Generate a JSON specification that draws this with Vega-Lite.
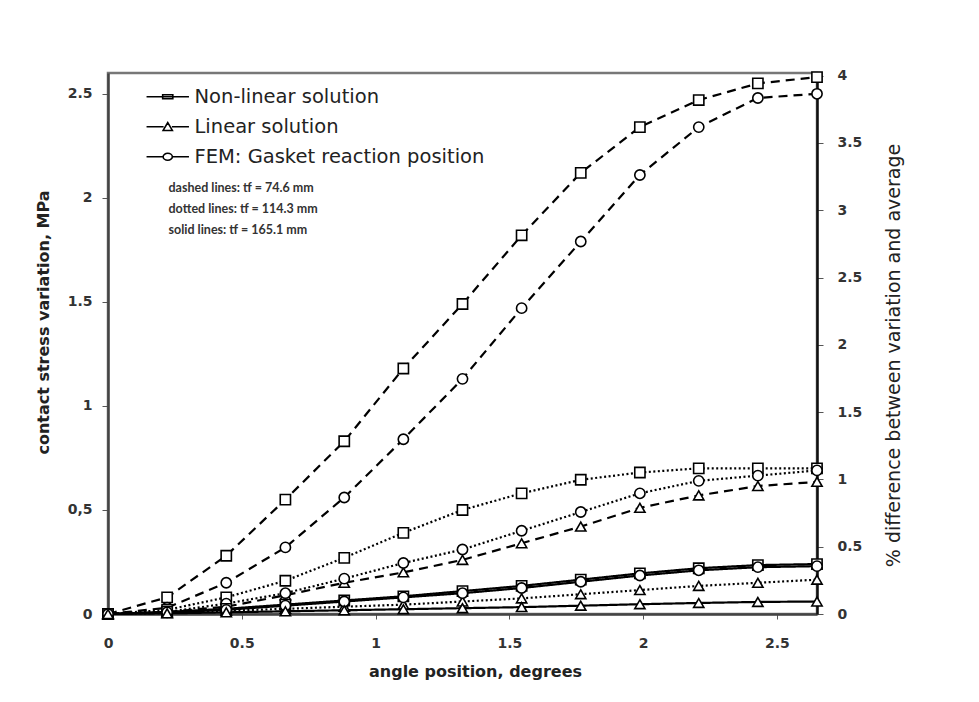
{
  "$schema": "https://vega.github.io/schema/vega-lite/v6.json",
  "width": 709,
  "height": 541,
  "autosize": {"type": "none"},
  "padding": {"left": 108, "top": 73, "right": 162, "bottom": 88},
  "background": "white",
  "config": {
    "font": "DejaVu Sans",
    "view": {"stroke": "#777", "strokeWidth": 2.5},
    "axis": {"grid": false, "labelColor": "#333", "titleColor": "#222", "tickColor": "#555", "domainColor": "#444", "domainWidth": 2.5, "labelFont": "DejaVu Sans", "titleFont": "DejaVu Sans"},
    "legend": {"labelFont": "DejaVu Sans"}
  },
  "datasets": {
    "curves": [
      {"a": 0, "v": 0, "m": "NL", "t": "d"}, {"a": 0.221, "v": 0.08, "m": "NL", "t": "d"}, {"a": 0.442, "v": 0.28, "m": "NL", "t": "d"}, {"a": 0.663, "v": 0.55, "m": "NL", "t": "d"}, {"a": 0.883, "v": 0.83, "m": "NL", "t": "d"}, {"a": 1.104, "v": 1.18, "m": "NL", "t": "d"}, {"a": 1.325, "v": 1.49, "m": "NL", "t": "d"}, {"a": 1.546, "v": 1.82, "m": "NL", "t": "d"}, {"a": 1.767, "v": 2.12, "m": "NL", "t": "d"}, {"a": 1.988, "v": 2.34, "m": "NL", "t": "d"}, {"a": 2.208, "v": 2.47, "m": "NL", "t": "d"}, {"a": 2.429, "v": 2.55, "m": "NL", "t": "d"}, {"a": 2.65, "v": 2.58, "m": "NL", "t": "d"},
      {"a": 0, "v": 0, "m": "FEM", "t": "d"}, {"a": 0.221, "v": 0.03, "m": "FEM", "t": "d"}, {"a": 0.442, "v": 0.15, "m": "FEM", "t": "d"}, {"a": 0.663, "v": 0.32, "m": "FEM", "t": "d"}, {"a": 0.883, "v": 0.56, "m": "FEM", "t": "d"}, {"a": 1.104, "v": 0.84, "m": "FEM", "t": "d"}, {"a": 1.325, "v": 1.13, "m": "FEM", "t": "d"}, {"a": 1.546, "v": 1.47, "m": "FEM", "t": "d"}, {"a": 1.767, "v": 1.79, "m": "FEM", "t": "d"}, {"a": 1.988, "v": 2.11, "m": "FEM", "t": "d"}, {"a": 2.208, "v": 2.34, "m": "FEM", "t": "d"}, {"a": 2.429, "v": 2.48, "m": "FEM", "t": "d"}, {"a": 2.65, "v": 2.5, "m": "FEM", "t": "d"},
      {"a": 0, "v": 0, "m": "L", "t": "d"}, {"a": 0.221, "v": 0.01, "m": "L", "t": "d"}, {"a": 0.442, "v": 0.035, "m": "L", "t": "d"}, {"a": 0.663, "v": 0.09, "m": "L", "t": "d"}, {"a": 0.883, "v": 0.15, "m": "L", "t": "d"}, {"a": 1.104, "v": 0.2, "m": "L", "t": "d"}, {"a": 1.325, "v": 0.26, "m": "L", "t": "d"}, {"a": 1.546, "v": 0.34, "m": "L", "t": "d"}, {"a": 1.767, "v": 0.42, "m": "L", "t": "d"}, {"a": 1.988, "v": 0.51, "m": "L", "t": "d"}, {"a": 2.208, "v": 0.57, "m": "L", "t": "d"}, {"a": 2.429, "v": 0.615, "m": "L", "t": "d"}, {"a": 2.65, "v": 0.635, "m": "L", "t": "d"},
      {"a": 0, "v": 0, "m": "NL", "t": "o"}, {"a": 0.221, "v": 0.02, "m": "NL", "t": "o"}, {"a": 0.442, "v": 0.08, "m": "NL", "t": "o"}, {"a": 0.663, "v": 0.16, "m": "NL", "t": "o"}, {"a": 0.883, "v": 0.27, "m": "NL", "t": "o"}, {"a": 1.104, "v": 0.39, "m": "NL", "t": "o"}, {"a": 1.325, "v": 0.5, "m": "NL", "t": "o"}, {"a": 1.546, "v": 0.58, "m": "NL", "t": "o"}, {"a": 1.767, "v": 0.645, "m": "NL", "t": "o"}, {"a": 1.988, "v": 0.68, "m": "NL", "t": "o"}, {"a": 2.208, "v": 0.7, "m": "NL", "t": "o"}, {"a": 2.429, "v": 0.7, "m": "NL", "t": "o"}, {"a": 2.65, "v": 0.7, "m": "NL", "t": "o"},
      {"a": 0, "v": 0, "m": "FEM", "t": "o"}, {"a": 0.221, "v": 0.01, "m": "FEM", "t": "o"}, {"a": 0.442, "v": 0.05, "m": "FEM", "t": "o"}, {"a": 0.663, "v": 0.1, "m": "FEM", "t": "o"}, {"a": 0.883, "v": 0.17, "m": "FEM", "t": "o"}, {"a": 1.104, "v": 0.245, "m": "FEM", "t": "o"}, {"a": 1.325, "v": 0.31, "m": "FEM", "t": "o"}, {"a": 1.546, "v": 0.4, "m": "FEM", "t": "o"}, {"a": 1.767, "v": 0.49, "m": "FEM", "t": "o"}, {"a": 1.988, "v": 0.58, "m": "FEM", "t": "o"}, {"a": 2.208, "v": 0.64, "m": "FEM", "t": "o"}, {"a": 2.429, "v": 0.665, "m": "FEM", "t": "o"}, {"a": 2.65, "v": 0.69, "m": "FEM", "t": "o"},
      {"a": 0, "v": 0, "m": "L", "t": "o"}, {"a": 0.221, "v": 0.005, "m": "L", "t": "o"}, {"a": 0.442, "v": 0.015, "m": "L", "t": "o"}, {"a": 0.663, "v": 0.025, "m": "L", "t": "o"}, {"a": 0.883, "v": 0.035, "m": "L", "t": "o"}, {"a": 1.104, "v": 0.045, "m": "L", "t": "o"}, {"a": 1.325, "v": 0.06, "m": "L", "t": "o"}, {"a": 1.546, "v": 0.075, "m": "L", "t": "o"}, {"a": 1.767, "v": 0.095, "m": "L", "t": "o"}, {"a": 1.988, "v": 0.115, "m": "L", "t": "o"}, {"a": 2.208, "v": 0.135, "m": "L", "t": "o"}, {"a": 2.429, "v": 0.15, "m": "L", "t": "o"}, {"a": 2.65, "v": 0.165, "m": "L", "t": "o"},
      {"a": 0, "v": 0, "m": "NL", "t": "s"}, {"a": 0.221, "v": 0.01, "m": "NL", "t": "s"}, {"a": 0.442, "v": 0.025, "m": "NL", "t": "s"}, {"a": 0.663, "v": 0.045, "m": "NL", "t": "s"}, {"a": 0.883, "v": 0.065, "m": "NL", "t": "s"}, {"a": 1.104, "v": 0.085, "m": "NL", "t": "s"}, {"a": 1.325, "v": 0.11, "m": "NL", "t": "s"}, {"a": 1.546, "v": 0.135, "m": "NL", "t": "s"}, {"a": 1.767, "v": 0.165, "m": "NL", "t": "s"}, {"a": 1.988, "v": 0.195, "m": "NL", "t": "s"}, {"a": 2.208, "v": 0.22, "m": "NL", "t": "s"}, {"a": 2.429, "v": 0.235, "m": "NL", "t": "s"}, {"a": 2.65, "v": 0.24, "m": "NL", "t": "s"},
      {"a": 0, "v": 0, "m": "FEM", "t": "s"}, {"a": 0.221, "v": 0.008, "m": "FEM", "t": "s"}, {"a": 0.442, "v": 0.02, "m": "FEM", "t": "s"}, {"a": 0.663, "v": 0.04, "m": "FEM", "t": "s"}, {"a": 0.883, "v": 0.06, "m": "FEM", "t": "s"}, {"a": 1.104, "v": 0.08, "m": "FEM", "t": "s"}, {"a": 1.325, "v": 0.1, "m": "FEM", "t": "s"}, {"a": 1.546, "v": 0.125, "m": "FEM", "t": "s"}, {"a": 1.767, "v": 0.155, "m": "FEM", "t": "s"}, {"a": 1.988, "v": 0.185, "m": "FEM", "t": "s"}, {"a": 2.208, "v": 0.21, "m": "FEM", "t": "s"}, {"a": 2.429, "v": 0.225, "m": "FEM", "t": "s"}, {"a": 2.65, "v": 0.23, "m": "FEM", "t": "s"},
      {"a": 0, "v": 0, "m": "L", "t": "s"}, {"a": 0.221, "v": 0.003, "m": "L", "t": "s"}, {"a": 0.442, "v": 0.008, "m": "L", "t": "s"}, {"a": 0.663, "v": 0.013, "m": "L", "t": "s"}, {"a": 0.883, "v": 0.018, "m": "L", "t": "s"}, {"a": 1.104, "v": 0.023, "m": "L", "t": "s"}, {"a": 1.325, "v": 0.028, "m": "L", "t": "s"}, {"a": 1.546, "v": 0.033, "m": "L", "t": "s"}, {"a": 1.767, "v": 0.04, "m": "L", "t": "s"}, {"a": 1.988, "v": 0.047, "m": "L", "t": "s"}, {"a": 2.208, "v": 0.053, "m": "L", "t": "s"}, {"a": 2.429, "v": 0.058, "m": "L", "t": "s"}, {"a": 2.65, "v": 0.06, "m": "L", "t": "s"}
    ],
    "pct": [{"pct": 0}, {"pct": 4}]
  },
  "layer": [
    {
      "data": {"name": "curves"},
      "encoding": {
        "x": {
          "field": "a", "type": "quantitative",
          "scale": {"domain": [0, 2.65], "nice": false, "zero": false},
          "axis": {"values": [0, 0.5, 1, 1.5, 2, 2.5], "format": "~g", "labelFontSize": 14, "labelFontWeight": "bold", "labelPadding": 17, "labelFlush": false, "tickSize": 5, "title": "angle  position,  degrees", "titleFontSize": 16, "titleFontWeight": "bold", "titlePadding": 13, "titleX": 367}
        },
        "y": {
          "field": "v", "type": "quantitative",
          "scale": {"domain": [0, 2.6], "nice": false},
          "axis": {"values": [0, 0.5, 1, 1.5, 2, 2.5], "format": "~g", "labelExpr": "datum.value == 0.5 ? '0,5' : datum.label", "labelFontSize": 14, "labelFontWeight": "bold", "labelPadding": 10, "tickSize": 6, "title": "contact  stress  variation,  MPa", "titleFontSize": 16, "titleFontWeight": "bold", "titlePadding": 16, "titleY": 249}
        }
      },
      "layer": [
        {
          "mark": {"type": "line", "color": "black", "strokeWidth": 2.2},
          "encoding": {
            "strokeDash": {
              "field": "t", "type": "nominal",
              "scale": {"domain": ["d", "o", "s"], "range": [[9, 6], [2, 2.5], [1, 0]]},
              "legend": {
                "orient": "none", "legendX": 46, "legendY": 109, "title": null, "padding": 0, "labelLimit": 600,
                "labelExpr": "datum.label == 'd' ? 'dashed lines:  tf = 74.6 mm' : datum.label == 'o' ? 'dotted lines:  tf = 114.3 mm' : 'solid lines:  tf = 165.1 mm'",
                "labelFontSize": 12.5, "labelFontWeight": "bold", "labelColor": "#333", "labelFont": "Lato",
                "symbolSize": 0, "symbolOpacity": 0, "symbolStrokeWidth": 0, "labelOffset": 2, "rowPadding": 8
              }
            },
            "detail": {"field": "m"}
          }
        },
        {
          "mark": {"type": "point", "filled": true, "fill": "white", "stroke": "black", "strokeWidth": 1.6, "size": 105, "opacity": 1},
          "encoding": {
            "shape": {
              "field": "m", "type": "nominal",
              "scale": {"domain": ["NL", "L", "FEM"], "range": ["square", "triangle-up", "circle"]},
              "legend": null
            }
          }
        },
        {
          "mark": {"type": "point", "filled": false, "stroke": "black", "strokeWidth": 1.6, "size": 85, "opacity": 0},
          "encoding": {
            "shape": {
              "field": "m", "type": "nominal",
              "scale": {"domain": ["NL", "L", "FEM"], "range": ["M-4.6,0H4.6M-1.1,-0.45H1.1V0.45H-1.1Z", "M-4.6,0H-0.9M0.9,0H4.6M-1,0.8L0,-0.9L1,0.8Z", "M-4.6,0H-1M1,0H4.6M1,0A1,0.75 0 1,1 -1,0A1,0.75 0 1,1 1,0Z"]},
              "legend": {
                "orient": "none", "legendX": 50, "legendY": 14, "title": null, "padding": 0, "labelLimit": 600,
                "labelExpr": "datum.label == 'NL' ? 'Non-linear solution' : datum.label == 'L' ? 'Linear solution' : 'FEM: Gasket reaction position'",
                "labelFontSize": 19.5, "labelColor": "#222", "labelOffset": 17, "rowPadding": 9,
                "symbolSize": 85, "symbolOpacity": 1, "symbolStrokeColor": "black", "symbolStrokeWidth": 1.6,
                "encode": {
                  "symbols": {
                    "update": {
                      "stroke": {"value": "black"},
                      "fill": {"value": "white"},
                      "strokeWidth": {"value": 1.6},
                      "opacity": {"value": 1}
                    }
                  }
                }
              }
            }
          }
        }
      ],
      "resolve": {"scale": {"shape": "independent"}}
    },
    {
      "data": {"name": "pct"},
      "mark": {"type": "point", "opacity": 0},
      "encoding": {
        "y": {
          "field": "pct", "type": "quantitative",
          "scale": {"domain": [0, 4.02], "nice": false},
          "axis": {"orient": "right", "values": [0, 0.5, 1, 1.5, 2, 2.5, 3, 3.5, 4], "format": "~g", "labelFontSize": 14, "labelFontWeight": "bold", "labelPadding": 14, "tickSize": 6, "domainColor": "#111", "title": "% difference between variation and average", "titleFontSize": 19, "titleFontWeight": "normal", "titleAngle": 270, "titleX": 76, "titleY": 282, "titleAlign": "center", "titleBaseline": "middle"}
        }
      }
    }
  ],
  "resolve": {"scale": {"y": "independent"}}
}
